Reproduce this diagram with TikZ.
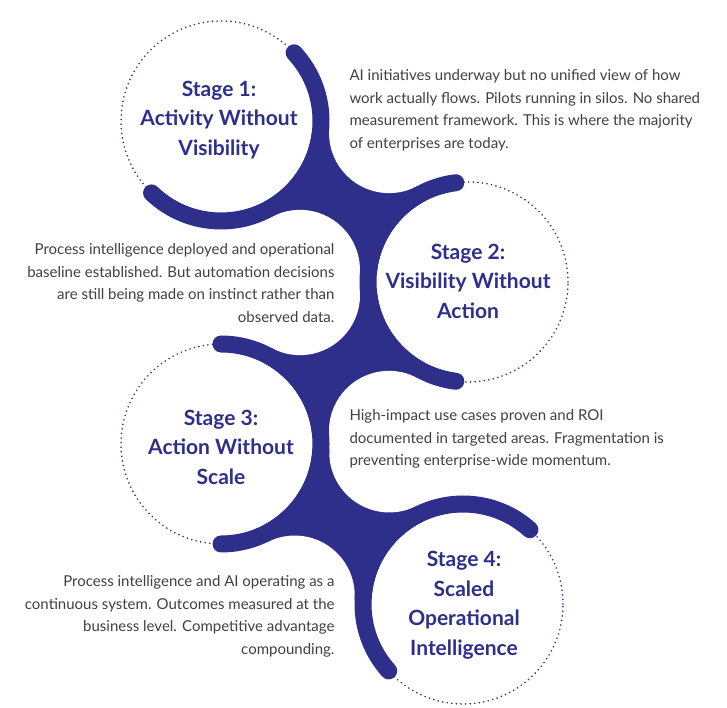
\documentclass[tikz,border=0pt]{standalone}
\usepackage{fontspec}
\setmainfont{Lato}
\usetikzlibrary{intersections}
\definecolor{ink}{RGB}{46,47,138}
\definecolor{txt}{RGB}{64,64,64}
\begin{document}
\begin{tikzpicture}[x=1pt,y=1pt,
  band/.style={draw=ink,line width=17pt,line cap=round},
  dots/.style={draw=ink,line width=1.8pt,line cap=round,dash pattern=on 0pt off 4.6pt},
  title/.style={text=ink,font=\bfseries\fontsize{21}{29.5}\selectfont,align=center},
  desc/.style={text=txt,font=\fontsize{15}{22.7}\selectfont}]
\useasboundingbox (0,0) rectangle (727,708);
\coordinate (c1) at (221,587);
\coordinate (c2) at (468,426);
\coordinate (c3) at (221,264);
\coordinate (c4) at (463,104);
\foreach \a/\b/\n in {c1/c2/A,c2/c3/B,c3/c4/C}{
  \path[name path global=p\n1] (\a) circle[radius=168.5pt];
  \path[name path global=p\n2] (\b) circle[radius=168.5pt];
  \path[name intersections={of=p\n1 and p\n2, name=f\n}];
  \fill[ink] (\a) -- (f\n-1) -- (\b) -- (f\n-2) -- cycle;
}
\foreach \n in {A,B,C}{
  \fill[white] (f\n-1) circle[radius=60pt];
  \fill[white] (f\n-2) circle[radius=60pt];
}
\foreach \c in {c1,c2,c3,c4}{
  \fill[white] (\c) circle[radius=91.5pt];
  \path[dots] (\c) circle[radius=100pt];
}
\draw[band] (c1) ++(43:100pt) arc[start angle=43,end angle=-134,radius=100pt];
\draw[band] (c2) ++(97:100pt) arc[start angle=97,end angle=263,radius=100pt];
\draw[band] (c3) ++(90:100pt) arc[start angle=90,end angle=-90,radius=100pt];
\draw[band] (c4) ++(48:100pt) arc[start angle=48,end angle=222,radius=100pt];

\node[title] (t1) at (219,588) {Stage 1:\\Activity Without\\Visibility};
\node[title] (t2) at (468,427) {Stage 2:\\Visibility Without\\Action};
\node[title] (t3) at (221,261) {Stage 3:\\Action Without\\Scale};
\node[title] (t4) at (464,103) {Stage 4:\\Scaled\\Operational\\Intelligence};

\node[desc,align=left,anchor=north west] (d1) at (346,642) {AI initiatives underway but no unified view of how\\work actually flows. Pilots running in silos. No shared\\measurement framework. This is where the majority\\of enterprises are today.};
\node[desc,align=right,anchor=north east] (d2) at (338,468) {Process intelligence deployed and operational\\baseline established. But automation decisions\\are still being made on instinct rather than\\observed data.};
\node[desc,align=left,anchor=north west] (d3) at (346,302) {High-impact use cases proven and ROI\\documented in targeted areas. Fragmentation is\\preventing enterprise-wide momentum.};
\node[desc,align=right,anchor=north east] (d4) at (338,136) {Process intelligence and AI operating as a\\continuous system. Outcomes measured at the\\business level. Competitive advantage\\compounding.};
\end{tikzpicture}
\end{document}
